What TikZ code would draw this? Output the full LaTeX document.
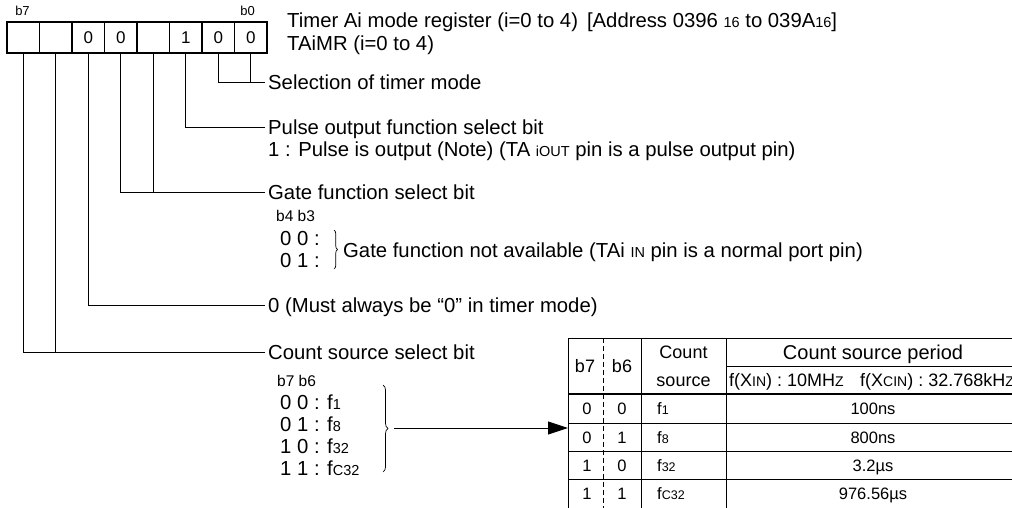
\documentclass[tikz,border=0pt]{standalone}
\usepackage{fontspec}
\setmainfont{Liberation Sans}
\usetikzlibrary{arrows.meta,decorations.pathreplacing}
\newcommand\fMain{\fontsize{20.3pt}{24pt}\selectfont}
\newcommand\fSmall{\fontsize{15.5pt}{17pt}\selectfont}
\newcommand\fBit{\fontsize{13pt}{15pt}\selectfont}
\newcommand\fCell{\fontsize{17pt}{18pt}\selectfont}
\newcommand\fTab{\fontsize{16.5pt}{18pt}\selectfont}
\newcommand\fTabS{\fontsize{18pt}{20pt}\selectfont}
\newcommand\fTabH{\fontsize{18pt}{20pt}\selectfont}
\newcommand\fTabP{\fontsize{20pt}{22pt}\selectfont}
\newcommand\subM[1]{{\fontsize{14.5pt}{14pt}\selectfont #1}}
\newcommand\subT[1]{{\fontsize{12.5pt}{12pt}\selectfont #1}}
\newcommand\subS[1]{{\fontsize{14pt}{12pt}\selectfont #1}}
\tikzset{
  conn/.style={line width=0.9pt},
  cell/.style={draw, line width=1.2pt, minimum width=32.5pt, minimum height=31pt, inner sep=0pt, font=\fCell},
  lbl/.style={anchor=west, inner xsep=3pt, inner ysep=0pt, text height=14.5pt, text depth=0pt, font=\fMain},
  lblsmall/.style={anchor=west, inner sep=0pt, text height=11pt, text depth=0pt, font=\fSmall},
  bitlbl/.style={inner sep=0pt, text height=9.5pt, text depth=0pt, font=\fBit},
  tline/.style={line width=1pt},
  ttext/.style={inner sep=0pt, text height=12pt, text depth=0pt, font=\fTab},
  thead/.style={inner sep=0pt, text height=13pt, text depth=0pt, font=\fTabH},
  brc/.style={decorate, decoration={brace, amplitude=4pt}, line width=0.7pt},
}
\begin{document}
\begin{tikzpicture}[x=1pt,y=-1pt]
\useasboundingbox (0,0) rectangle (1012,508);
\begin{scope}
\clip (0,0) rectangle (1012,508);
% register cells
\foreach \i/\v in {7/,6/,5/0,4/0,3/,2/1,1/0,0/0} {
  \node[cell] (c\i) at ({7+32.5*(7-\i)+16.25},37.5) {\v};
}
\node[bitlbl] (lb7) at (22.5,11) {b7};
\node[bitlbl] (lb0) at (247.5,11) {b0};
% header
\node[anchor=base west, inner sep=0pt, font=\fMain] (title) at (287,28)
  {Timer Ai mode register (i=0 to 4)\hspace{9pt}[Address 0396 \subM{16} to 039A\subM{16}]};
\node[anchor=base west, inner sep=0pt, font=\fMain] (title2) at (287,51) {TAiMR (i=0 to 4)};
% labels
\node[lbl] (sel) at (265,82) {Selection of timer mode};
\node[lbl] (pulse) at (265,127) {Pulse output function select bit};
\node[lbl] (pulse2) at (265,149) {1 : Pulse is output (Note) (TA \subM{iOUT} pin is a pulse output pin)};
\node[lbl] (gate) at (265,192) {Gate function select bit};
\node[lblsmall] (b4b3) at (276,216) {b4 b3};
\node[lbl, inner xsep=0pt] (g00) at (280,238) {0 0 :};
\node[lbl, inner xsep=0pt] (g01) at (280,260) {0 1 :};
\node[lbl, inner xsep=0pt] (gna) at (343,250) {Gate function not available (TAi \subM{IN} pin is a normal port pin)};
\node[lbl] (must) at (265,305) {0 (Must always be “0” in timer mode)};
\node[lbl] (cnt) at (265,352) {Count source select bit};
\node[lblsmall] (b7b6) at (277,381) {b7 b6};
\node[lbl, inner xsep=0pt] (l00) at (280,402) {0 0 : f\subM{1}};
\node[lbl, inner xsep=0pt] (l01) at (280,424) {0 1 : f\subM{8}};
\node[lbl, inner xsep=0pt] (l10) at (280,446) {1 0 : f\subM{32}};
\node[lbl, inner xsep=0pt] (l11) at (280,468) {1 1 : f\subM{C32}};
% connectors
\draw[conn] (c0.south) -- (c0.south |- sel.west);
\draw[conn] (c1.south) |- (sel.west);
\draw[conn] (c2.south) |- (pulse.west);
\draw[conn] (c3.south) -- (c3.south |- gate.west);
\draw[conn] (c4.south) |- (gate.west);
\draw[conn] (c5.south) |- (must.west);
\draw[conn] (c6.south) -- (c6.south |- cnt.west);
\draw[conn] (c7.south) |- (cnt.west);
% braces
\draw[brc, decoration={amplitude=3.5pt}] (334,230) -- (334,269);
\draw[brc, decoration={amplitude=5pt}] (383,385) -- (383,472);
\coordinate (cbt) at (394,428);
\coordinate (tblL) at (568,428);
\draw[conn, -{Triangle[length=20pt,width=13pt]}] (cbt) -- (tblL);
% table
\draw[tline] (568,338) -- (1020,338);
\draw[tline] (726,366) -- (1020,366);
\draw[line width=2pt] (568,394) -- (1020,394);
\foreach \y in {423,451,479} \draw[tline] (568,\y) -- (1020,\y);
\draw[tline] (568,338) -- (568,510);
\draw[tline, dash pattern=on 5pt off 3pt] (603,338) -- (603,510);
\draw[tline] (641,338) -- (641,510);
\draw[tline] (726,338) -- (726,510);
\node[thead] (hb7) at (585,366) {b7};
\node[thead] (hb6) at (622,366) {b6};
\node[thead] (hcs1) at (683.5,352) {Count};
\node[thead] (hcs2) at (683.5,380) {source};
\node[thead, font=\fTabP, text height=14pt] (hper) at (873,352) {Count source period};
\node[ttext, anchor=west, font=\fTabS, text height=13pt] (hx1) at (729,380) {f(X\subS{IN}) : 10MH\subS{Z}};
\node[ttext, anchor=west, font=\fTabS, text height=13pt] (hx2) at (860,380) {f(X\subS{CIN}) : 32.768kH\subS{Z}};
\foreach \r/\y/\a/\b/\s/\p in {1/408.5/0/0/f\subT{1}/100ns, 2/437/0/1/f\subT{8}/800ns, 3/465/1/0/f\subT{32}/3.2µs, 4/493.5/1/1/f\subT{C32}/976.56µs} {
  \node[ttext] (ra\r) at (587,\y) {\a};
  \node[ttext] (rb\r) at (622,\y) {\b};
  \node[ttext, anchor=west] (rs\r) at (657,\y) {\s};
  \node[ttext] (rp\r) at (873,\y) {\p};
}
\end{scope}
\end{tikzpicture}
\end{document}
